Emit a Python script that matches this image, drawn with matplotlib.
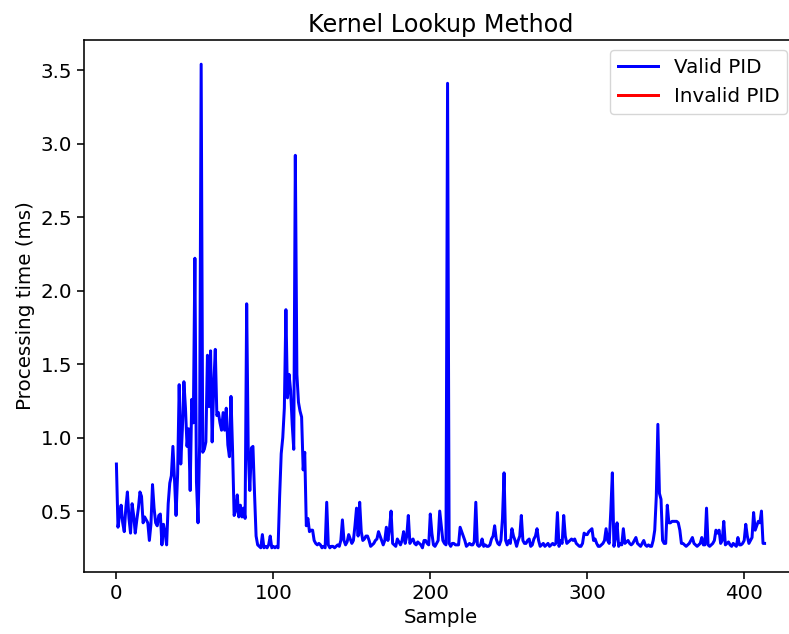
import numpy as np
import matplotlib
matplotlib.use("Agg")
import matplotlib.pyplot as plt

# processing time (ms) per sample
valid_ms = [
    0.82, 0.39, 0.47, 0.54, 0.42, 0.36, 0.52, 0.63, 0.45, 0.35,
    0.55, 0.47, 0.35, 0.44, 0.52, 0.63, 0.60, 0.42, 0.46, 0.44,
    0.42, 0.30, 0.41, 0.68, 0.52, 0.42, 0.40, 0.47, 0.48, 0.27,
    0.41, 0.35, 0.27, 0.55, 0.69, 0.74, 0.94, 0.72, 0.47, 0.75,
    1.36, 0.82, 1.05, 1.38, 1.20, 0.94, 1.06, 0.64, 1.26, 1.10,
    2.22, 0.70, 0.42, 0.95, 3.54, 0.90, 0.92, 0.97, 1.56, 1.21,
    1.59, 0.97, 1.35, 1.60, 1.15, 1.17, 1.10, 1.05, 1.17, 1.05,
    1.20, 0.95, 0.87, 1.28, 0.92, 0.47, 0.50, 0.61, 0.46, 0.54,
    0.46, 0.52, 0.45, 1.91, 0.90, 0.64, 0.93, 0.94, 0.62, 0.33,
    0.27, 0.26, 0.25, 0.34, 0.25, 0.26, 0.25, 0.27, 0.33, 0.25,
    0.26, 0.25, 0.26, 0.25, 0.60, 0.89, 1.00, 1.20, 1.87, 1.27,
    1.43, 1.32, 1.09, 0.92, 2.92, 1.43, 1.24, 1.18, 1.14, 0.78,
    0.90, 0.40, 0.45, 0.36, 0.37, 0.37, 0.30, 0.28, 0.27, 0.28,
    0.27, 0.25, 0.26, 0.25, 0.56, 0.27, 0.25, 0.26, 0.26, 0.25,
    0.26, 0.27, 0.26, 0.30, 0.44, 0.30, 0.27, 0.29, 0.34, 0.31,
    0.28, 0.30, 0.40, 0.52, 0.33, 0.56, 0.36, 0.30, 0.31, 0.33,
    0.33, 0.30, 0.26, 0.27, 0.28, 0.30, 0.31, 0.36, 0.33, 0.30,
    0.27, 0.30, 0.39, 0.30, 0.38, 0.50, 0.28, 0.27, 0.26, 0.31,
    0.29, 0.27, 0.30, 0.36, 0.28, 0.33, 0.47, 0.28, 0.30, 0.31,
    0.28, 0.27, 0.29, 0.28, 0.27, 0.25, 0.30, 0.30, 0.28, 0.27,
    0.48, 0.35, 0.27, 0.26, 0.28, 0.30, 0.50, 0.40, 0.30, 0.28,
    0.27, 3.41, 0.28, 0.26, 0.28, 0.28, 0.27, 0.27, 0.27, 0.39,
    0.36, 0.33, 0.30, 0.26, 0.27, 0.28, 0.27, 0.27, 0.29, 0.56,
    0.27, 0.26, 0.27, 0.31, 0.26, 0.27, 0.26, 0.26, 0.27, 0.31,
    0.33, 0.40, 0.31, 0.28, 0.27, 0.30, 0.45, 0.76, 0.30, 0.27,
    0.30, 0.28, 0.38, 0.33, 0.30, 0.26, 0.30, 0.33, 0.47, 0.30,
    0.28, 0.28, 0.30, 0.31, 0.26, 0.27, 0.31, 0.33, 0.38, 0.30,
    0.26, 0.27, 0.28, 0.26, 0.27, 0.28, 0.26, 0.27, 0.28, 0.27,
    0.28, 0.49, 0.26, 0.30, 0.28, 0.47, 0.33, 0.28, 0.29, 0.30,
    0.31, 0.30, 0.31, 0.28, 0.27, 0.26, 0.26, 0.28, 0.35, 0.34,
    0.34, 0.36, 0.37, 0.38, 0.30, 0.31, 0.28, 0.26, 0.26, 0.27,
    0.28, 0.30, 0.38, 0.30, 0.28, 0.50, 0.76, 0.26, 0.32, 0.42,
    0.26, 0.28, 0.27, 0.38, 0.28, 0.29, 0.30, 0.28, 0.27, 0.28,
    0.30, 0.32, 0.28, 0.27, 0.26, 0.28, 0.30, 0.27, 0.26, 0.27,
    0.26, 0.26, 0.30, 0.37, 0.60, 1.09, 0.62, 0.58, 0.30, 0.28,
    0.28, 0.54, 0.42, 0.42, 0.43, 0.43, 0.43, 0.43, 0.42, 0.37,
    0.28, 0.28, 0.27, 0.26, 0.27, 0.28, 0.30, 0.32, 0.28, 0.27,
    0.26, 0.27, 0.28, 0.32, 0.27, 0.27, 0.52, 0.27, 0.26, 0.27,
    0.28, 0.30, 0.37, 0.35, 0.37, 0.28, 0.30, 0.43, 0.27, 0.28,
    0.29, 0.27, 0.26, 0.28, 0.27, 0.26, 0.32, 0.27, 0.27, 0.28,
    0.30, 0.41, 0.33, 0.28, 0.30, 0.32, 0.49, 0.37, 0.40, 0.43,
    0.42, 0.50, 0.28, 0.28,
]
invalid_ms = []

sample = np.arange(len(valid_ms))

fig = plt.figure(figsize=(7.89, 6.34), dpi=100)
# the reference is cut at the right edge, so the right spine falls just outside
ax = fig.add_axes([84 / 789, 1 - 572 / 634, (797 - 84) / 789, (572 - 40) / 634])

ax.plot(sample, valid_ms, color="blue", lw=2.15, label="Valid PID")
ax.plot(np.arange(len(invalid_ms)), invalid_ms, color="red", lw=2.15, label="Invalid PID")

ax.set_title("Kernel Lookup Method", fontsize=17.2)
ax.set_xlabel("Sample", fontsize=14.3)
ax.set_ylabel("Processing time (ms)", fontsize=14.3)
ax.tick_params(labelsize=14.3, width=1.15, length=5)
for s in ax.spines.values():
    s.set_linewidth(1.15)
ax.set_xticks([0, 100, 200, 300, 400])
ax.set_yticks([0.5, 1.0, 1.5, 2.0, 2.5, 3.0, 3.5])
ax.legend(loc="upper right", fontsize=14.3)

fig.savefig("out.png", dpi=100)
